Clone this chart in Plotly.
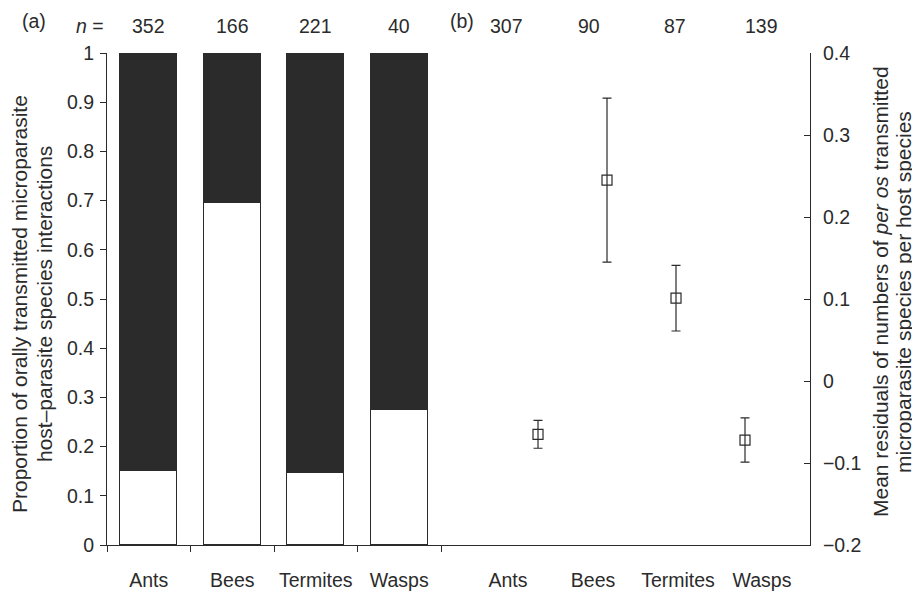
import plotly.graph_objects as go

# ---- data ----
groups = ["Ants", "Bees", "Termites", "Wasps"]
n_a = [352, 166, 221, 40]
prop_oral = [0.15, 0.695, 0.147, 0.275]          # white lower part
n_b = [307, 90, 87, 139]
resid_mean = [-0.065, 0.245, 0.101, -0.072]
resid_err = [0.017, 0.100, 0.040, 0.027]
title_a = ["Proportion of orally transmitted microparasite", "host\u2013parasite species interactions"]
title_b = ["Mean residuals of numbers of <i>per os</i> transmitted", "microparasite species per host species"]

FONT = "Liberation Sans, Arial, sans-serif"
INK = "#2b2b2b"
FS = 19.5
FS_T = 21

# page body has an 8px margin: figure is 912x587, page pixel -> paper coords
W, H, OFF = 912, 587, 8


def px(x):
    return (x - OFF) / W


def py(y):
    return (H - (y - OFF)) / H


fig = go.Figure()

# panel (a): stacked proportions
fig.add_trace(go.Bar(x=groups, y=prop_oral, marker=dict(color="white", line=dict(color=INK, width=1)),
                     width=0.68, xaxis="x", yaxis="y", showlegend=False))
fig.add_trace(go.Bar(x=groups, y=[1 - p for p in prop_oral], marker=dict(color=INK, line=dict(color=INK, width=1)),
                     width=0.68, xaxis="x", yaxis="y", showlegend=False))

# panel (b): mean residuals with error bars
xb = list(range(len(groups)))
fig.add_trace(go.Scatter(x=xb, y=resid_mean, mode="markers",
                         marker=dict(symbol="square-open", size=10, color=INK, line=dict(width=1.2)),
                         error_y=dict(type="data", array=resid_err, color=INK, thickness=1.2, width=4.5),
                         xaxis="x2", yaxis="y2", showlegend=False))

dom_y = [py(545), py(53)]
fig.update_layout(
    width=W, height=H,
    margin=dict(l=0, r=0, t=0, b=0, autoexpand=False),
    paper_bgcolor="white", plot_bgcolor="white",
    barmode="stack", bargap=0,
    font=dict(family=FONT, size=FS, color=INK),
    xaxis=dict(domain=[px(107), px(441)], type="category", categoryorder="array", categoryarray=groups,
               range=[-0.5, 3.5], tickson="boundaries", ticks="outside", ticklen=6, tickcolor=INK,
               showline=True, linecolor=INK, linewidth=1, showgrid=False, zeroline=False,
               ticklabelstandoff=18, tickangle=0, anchor="y", automargin=False),
    yaxis=dict(domain=dom_y, range=[0, 1], dtick=0.1, ticks="outside", ticklen=6, tickcolor=INK,
               showline=True, linecolor=INK, linewidth=1, showgrid=False, zeroline=False,
               ticklabelstandoff=2, anchor="x", automargin=False),
    xaxis2=dict(domain=[px(441), px(810)], range=[-1.406, 3.942],
                tickvals=[-0.435, 0.797, 2.029, 3.246], ticktext=groups, ticks="", tickangle=0,
                showline=True, linecolor=INK, linewidth=1, showgrid=False, zeroline=False,
                ticklabelstandoff=18, anchor="y2", automargin=False),
    yaxis2=dict(domain=dom_y, range=[-0.2, 0.4], dtick=0.1, side="right", ticks="inside", ticklen=6,
                tickcolor=INK, showline=True, linecolor=INK, linewidth=1, showgrid=False, zeroline=False,
                ticklabelstandoff=8, anchor="x2", automargin=False),
)


def note(x, y, text, xref="paper", size=FS, angle=0):
    fig.add_annotation(x=x, y=y, xref=xref, yref="paper", text=text, showarrow=False,
                       xanchor="center", yanchor="middle", textangle=angle, font=dict(size=size))


note(px(34), py(21), "(a)")
note(px(462), py(21), "(b)")
note(px(90), py(26.5), "<i>n</i> =")
for g, n in zip(groups, n_a):
    note(g, py(26.5), str(n), xref="x")
for xp, n in zip([506, 589, 675, 761], n_b):
    note(px(xp), py(26.5), str(n))

# axis titles (rotated, two lines each)
for xp, line in zip([20, 45], title_a):
    note(px(xp), py(304), line, size=FS_T, angle=-90)
for xp, line in zip([880, 903], title_b):
    note(px(xp), py(292), line, size=FS_T, angle=-90)

fig.write_html("out.html")
